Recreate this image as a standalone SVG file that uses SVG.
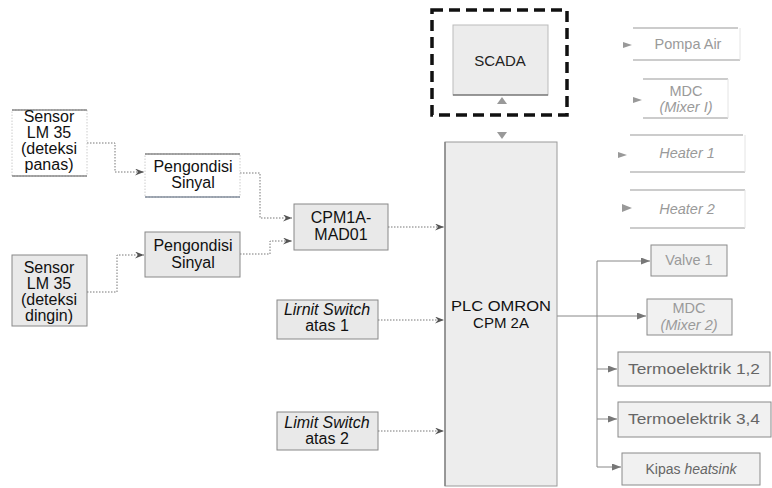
<svg xmlns="http://www.w3.org/2000/svg" width="772" height="488" viewBox="0 0 772 488">
<defs>
<marker id="ah" viewBox="0 0 9 7" markerWidth="9" markerHeight="7" refX="9" refY="3.5" orient="auto" markerUnits="userSpaceOnUse">
<path d="M0,0 L9,3.5 L0,7 L3,3.5 z" fill="#555"/>
</marker>
<marker id="ah2" viewBox="0 0 9 7" markerWidth="9" markerHeight="7" refX="9" refY="3.5" orient="auto" markerUnits="userSpaceOnUse">
<path d="M0,0 L9,3.5 L0,7 z" fill="#777"/>
</marker>
</defs>
<style>
.t{font-family:"Liberation Sans",Arial,sans-serif;font-size:16px;fill:#111;text-anchor:middle}
.i{font-style:italic}
.g{font-family:"Liberation Sans",Arial,sans-serif;font-size:14.5px;fill:#9a9a9a;text-anchor:middle}
.gd{font-family:"Liberation Sans",Arial,sans-serif;font-size:14px;fill:#666;text-anchor:middle}
.box{fill:#e9e9e9;stroke:#888;stroke-width:1}
.wbox{fill:#fff;stroke:#ccc;stroke-width:1;stroke-dasharray:1.5 1.5}
.hl{stroke:#555;stroke-width:1.2}
.hlg{stroke:#999;stroke-width:1.2}
.obox{fill:#f1f1f1;stroke:#8a8a8a;stroke-width:1}
.dot{fill:none;stroke:#777;stroke-width:1;stroke-dasharray:1.5 1.5}
.sol{fill:none;stroke:#888;stroke-width:1}
.tri{fill:#999}
</style>
<rect width="772" height="488" fill="#fff"/>

<g id="connectors">
<polyline class="dot" points="87,143 115,143 115,172 144,172" marker-end="url(#ah)"/>
<polyline class="dot" points="87,292 117,292 117,255 144,255" marker-end="url(#ah)"/>
<polyline class="dot" points="240,173 260,173 260,218 292,218" marker-end="url(#ah)"/>
<polyline class="dot" points="240,254 270,254 270,241 292,241" marker-end="url(#ah)"/>
<polyline class="dot" points="388,227 444,227" marker-end="url(#ah)"/>
<polyline class="dot" points="378,320 444,320" marker-end="url(#ah)"/>
<polyline class="dot" points="378,431 444,431" marker-end="url(#ah)"/>
<path class="tri" d="M497,104 L502,97 L507,104 z"/>
<path class="tri" d="M497,132 L507,132 L502,139 z"/>
<path class="tri" d="M623,42 L632,45 L623,48 z"/>
<path class="tri" d="M633,97 L642,100 L633,103 z"/>
<path class="tri" d="M618,152 L627,155 L618,158 z"/>
<path class="tri" d="M622,204 L632,208 L622,212 z"/>
<polyline class="sol" points="597,261 597,467"/>
<polyline class="sol" points="597,261 650,261" marker-end="url(#ah2)"/>
<polyline class="sol" points="557,316 646,316" marker-end="url(#ah2)"/>
<polyline class="sol" points="597,369 617,369" marker-end="url(#ah2)"/>
<polyline class="sol" points="597,419 617,419" marker-end="url(#ah2)"/>
<polyline class="sol" points="597,467 621,467" marker-end="url(#ah2)"/>
</g>

<g id="sensor1">
<rect class="wbox" x="12" y="110" width="75" height="66"/>
<line class="hl" x1="12" y1="110" x2="87" y2="110"/>
<line class="hl" x1="12" y1="176" x2="87" y2="176"/>
<text class="t" x="49" y="122">Sensor</text>
<text class="t" x="49" y="138">LM 35</text>
<text class="t" x="49" y="154">(deteksi</text>
<text class="t" x="49" y="170">panas)</text>
</g>

<g id="sensor2">
<rect class="box" x="12" y="255" width="75" height="71"/>
<text class="t" x="49" y="273">Sensor</text>
<text class="t" x="49" y="289">LM 35</text>
<text class="t" x="49" y="305">(deteksi</text>
<text class="t" x="49" y="321">dingin)</text>
</g>

<g id="pengondisi1">
<rect class="wbox" x="145" y="154" width="95" height="43"/>
<line class="hl" x1="145" y1="154" x2="240" y2="154"/>
<line x1="145" y1="197" x2="240" y2="197" stroke="#4a5a70" stroke-width="1.2"/>
<text class="t" x="193" y="172">Pengondisi</text>
<text class="t" x="193" y="188">Sinyal</text>
</g>

<g id="pengondisi2">
<rect class="box" x="145" y="232" width="95" height="45"/>
<text class="t" x="193" y="251">Pengondisi</text>
<text class="t" x="193" y="268">Sinyal</text>
</g>

<g id="cpm1a">
<rect class="box" x="294" y="204" width="94" height="46"/>
<text class="t" x="341" y="223">CPM1A-</text>
<text class="t" x="341" y="240">MAD01</text>
</g>

<g id="limit1">
<rect class="box" x="277" y="300" width="101" height="39"/>
<text class="t i" x="327" y="315">Lirnit Switch</text>
<text class="t" x="327" y="331">atas 1</text>
</g>

<g id="limit2">
<rect class="box" x="277" y="412" width="101" height="38"/>
<text class="t i" x="327" y="428">Limit Switch</text>
<text class="t" x="327" y="444">atas 2</text>
</g>

<g id="scada">
<rect x="432" y="10" width="135" height="105" fill="none" stroke="#111" stroke-width="3.5" stroke-dasharray="11 6"/>
<rect x="453" y="25" width="95" height="70" fill="#ececec" stroke="#bbb" stroke-width="1"/>
<line class="hl" x1="453" y1="95" x2="548" y2="95"/>
<text class="t" x="500" y="66" style="font-size:15px;fill:#222">SCADA</text>
</g>

<g id="plc">
<rect x="445" y="142" width="112" height="344" fill="#ededed" stroke="#9a9a9a" stroke-width="1"/>
<line x1="445" y1="142" x2="445" y2="486" stroke="#777" stroke-width="1.2"/>
<text class="t" x="501" y="311" style="font-size:15px" textLength="100" lengthAdjust="spacingAndGlyphs">PLC OMRON</text>
<text class="t" x="501" y="328" style="font-size:15px">CPM 2A</text>
</g>

<g id="pompa">
<line class="hlg" x1="633" y1="28" x2="738" y2="28"/>
<line class="hlg" x1="633" y1="60" x2="740" y2="60"/>
<line x1="740" y1="28" x2="740" y2="60" stroke="#e4e4e4"/>
<text class="g" x="688" y="49">Pompa Air</text>
</g>

<g id="mdc1">
<line class="hlg" x1="643" y1="79" x2="728" y2="79"/>
<line class="hlg" x1="643" y1="118" x2="728" y2="118"/>
<line x1="728" y1="79" x2="728" y2="118" stroke="#e4e4e4"/>
<text class="g" x="686" y="96">MDC</text>
<text class="g i" x="686" y="112">(Mixer I)</text>
</g>

<g id="heater1">
<line class="hlg" x1="630" y1="135" x2="743" y2="135"/>
<line class="hlg" x1="630" y1="172" x2="745" y2="172"/>
<line x1="745" y1="135" x2="745" y2="172" stroke="#e4e4e4"/>
<text class="g i" x="687" y="158">Heater 1</text>
</g>

<g id="heater2">
<line class="hlg" x1="630" y1="190" x2="745" y2="190"/>
<line class="hlg" x1="630" y1="228" x2="745" y2="228"/>
<line x1="745" y1="190" x2="745" y2="228" stroke="#e4e4e4"/>
<text class="g i" x="687" y="214">Heater 2</text>
</g>

<g id="valve1">
<rect class="obox" x="651" y="245" width="76" height="31"/>
<text class="g" x="689" y="265">Valve 1</text>
</g>

<g id="mdc2">
<rect class="obox" x="647" y="299" width="85" height="36"/>
<text class="g" x="689" y="313">MDC</text>
<text class="g i" x="689" y="330">(Mixer 2)</text>
</g>

<g id="termo12">
<rect class="obox" x="618" y="352" width="152" height="34"/>
<text class="gd" x="694" y="374" textLength="132" lengthAdjust="spacingAndGlyphs">Termoelektrik 1,2</text>
</g>

<g id="termo34">
<rect class="obox" x="618" y="402" width="153" height="35"/>
<text class="gd" x="694" y="424" textLength="132" lengthAdjust="spacingAndGlyphs">Termoelektrik 3,4</text>
</g>

<g id="kipas">
<rect class="obox" x="622" y="453" width="138" height="32"/>
<text class="gd" x="691" y="474">Kipas <tspan class="i">heatsink</tspan></text>
</g>
</svg>
